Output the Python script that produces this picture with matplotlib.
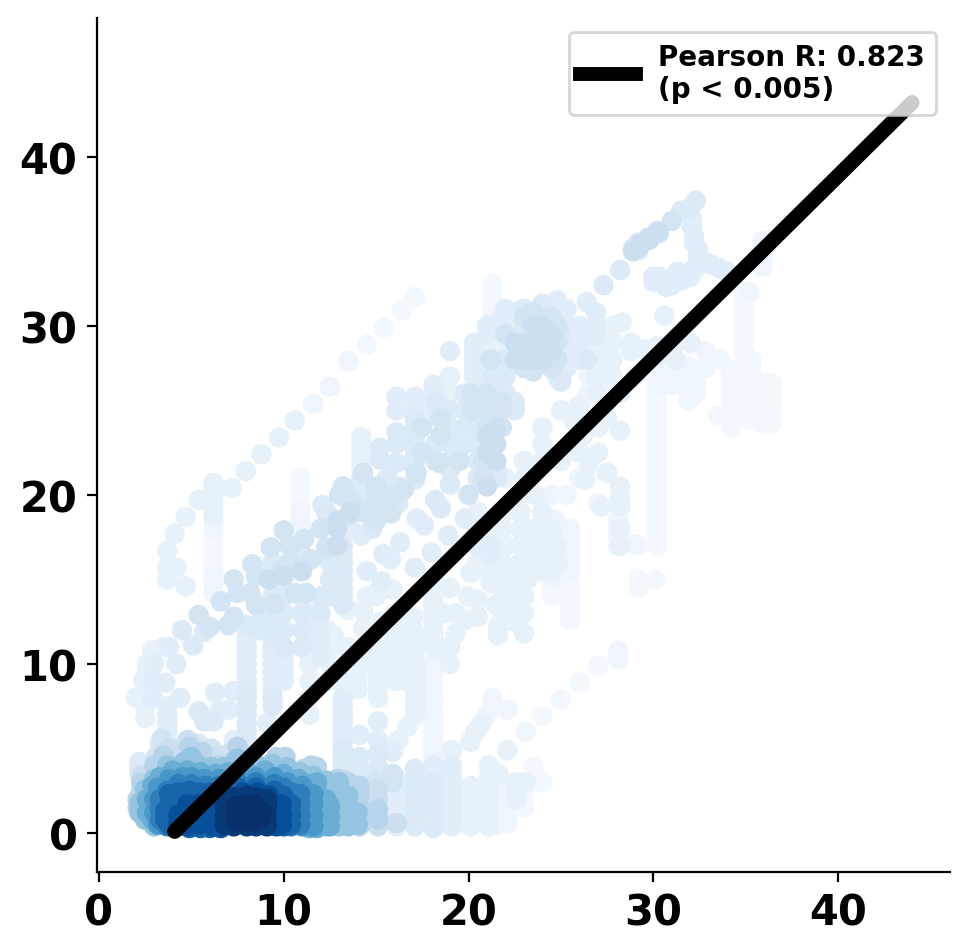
import numpy as np
import matplotlib
matplotlib.use("Agg")
import matplotlib.pyplot as plt
from matplotlib.lines import Line2D

# Each list: (x, [y values]), grouped by point density
d_02 = [
 (6.2,[15.5,16,16.5,17,17.5]), (10.9,[19.5,20,20.5,21]), (21.3,[31,31.5,32,32.5]),
 (30.2,[17,17.5,18,18.5,19,19.5,20,20.5,21,21.5,22,22.5,23,23.5,24,24.5,25,25.5,26]),
 (34.9,[24.5,25,25.5,26,26.5,27,27.5,28,28.5,29,29.5,30,30.5,31,31.5,32]),
 (35.3,[24.5,25,25.5,26,26.5,27,27.5,28]),
 (35.9,[24.2,24.6,25,25.5,26,26.6]), (36.4,[24.2,24.6,25,25.5,26,26.6]),
 (34.2,[24,24.5,25,25.5,26,26.5,27,27.4]), (33.5,[24.7]),
 (29.2,[14.5,15,17]), (30.1,[15]), (16.4,[30.9]), (17.1,[31.7]), (15.4,[29.9]),
 (14.5,[28.9]), (26,[8.9]), (27,[9.9]), (25,[7.9]), (24,[6.9]),
 (25.5,[12.6,13,13.5,14,14.5,15]), (24.5,[14,14.5]),
 (23,[3,2.5,2,1.5]), (24,[3.0]), (23.5,[3.9]),
]
d_05 = [
 (28.1,[10.3,10.8]), (22.1,[7.3]), (23.1,[6]), (13.5,[27.9]), (12.5,[26.4]), (11.6,[25.4]),
 (21.3,[29.5,30,30.5]), (30.2,[26.5,27,27.5,28]), (31.9,[25.6,26,26.5,27,27.6]),
 (32.3,[26.6,26]), (33.2,[28]), (33.6,[28]), (35.9,[33.5,34.1,35]), (36,[34.5]),
 (35.2,[32]), (6.2,[18,18.5,14.2,14.8,15.1]), (10.9,[17.5,18,18.5,19]),
 (18.1,[4.5,5,5.5,6,6.5,7,7.5,8,8.5,9,9.5,10]), (22.1,[0.6,1,1.5,2,2.5,3]),
 (21.6,[0.5,1,1.5,2,2.5,3]), (25.5,[15.5,16,16.5,17,17.5,18]), (24.7,[15,16.5,17.5,18.5]),
 (28.1,[17,17.5,18,18.5]), (27,[19.5]), (29,[17.1]),
 (21,[7]), (21.3,[7.5,8]), (23.5,[21.5]), (24.5,[20]), (25.3,[20]), (26,[21]),
 (31,[28,27,26.5]), (32.8,[27.5,28.5]), (26.5,[26,27,28]), (27.5,[25.5,26.5]),
]
d_08 = [
 (7.2,[20.4]), (7.95,[21.4]), (8.8,[22.4]), (9.75,[23.4]), (10.6,[24.4]), (5.4,[19.7]), (4.7,[18.7]),
 (4.1,[17.7]), (3.7,[16.7,15.7,15]), (4.7,[14.6]), (4.2,[15.7]), (6.2,[18.8,19.3,19.8,20.3,20.7]),
 (14.2,[21.5,22,22.5,23,23.4]), (19.0,[25,26,27]), (21.3,[28,28.5,29]), (20.8,[27,28,29]),
 (21.8,[29,30,30.5]), (22.5,[30,30.8]), (26.9,[26,27,27.5,28,28.5,29]), (27.8,[27,28,29,30]),
 (30.6,[30.6]), (29.5,[28.6]), (32,[29]), (31.2,[28,29]), (28.3,[30.2]), (28.8,[28.5,29]),
 (30.2,[28.2,28.8]), (27,[22.5,24]), (26.5,[21.8]), (27.5,[21.3,24.5]), (28.2,[23.8,26,20.5,19.8,19.3]),
 (26,[25.3,22.5]), (25.7,[24.4,23]), (29,[27]), (26.3,[20.9]), (27.2,[19.3]), (28.2,[17,18]),
 (2.5,[6.8,7.5,8.5]), (2,[8]), (2.4,[9]), (2.6,[9.5,10]), (2.9,[10.8]), (3.5,[11]),
 (20.1,[5.4]), (20.4,[6]), (20.7,[6.5]), (21.1,[4]), (22.1,[4.9]), (23.1,[3]), (19.1,[4.9]),
 (21.6,[3.5]), (22.6,[2,2.5,3]),
 (20.1,[0.4,0.8,1.2,1.6,2,2.4,2.8]), (21.1,[0.4,0.8,1.2,1.6,2,2.4,2.8,3.2]),
 (22.5,[12.5,13,13.5,14,15]), (23.2,[15,15.5,16,17,18]), (24,[15.5,16,17,18,19]),
 (24.8,[16,17]), (21.6,[11.7,12.2]), (21.2,[14.8]), (22,[15.2,17]), (21.5,[13.5]),
 (23,[11.8,13,14]), (18.1,[11,11.5,12,12.5,13,13.5,14,14.5,15]),
 (11.4,[7,8,9,10,10.5,11]), (15.1,[8,8.5,9,9.5,10,10.5]), (16.1,[9,9.5,10,10.5,11]),
 (17.1,[7,7.5,8,8.5,9,9.5,10,10.5,11]), (16.7,[6.3]), (16.2,[5.5]), (17.1,[11.5]),
 (13.5,[10,10.5,11]), (14.5,[10,10.5,11,11.5]), (12.7,[11.7]), (12.3,[12.1]), (14.3,[12.1]),
 (15.3,[12,12.5]), (16,[12,13]), (17,[12,12.8]), (13.5,[13.2]), (14.3,[13.1]),
 (14.5,[14]), (15.1,[14.3]), (15,[14]), (15.9,[14.4]), (19,[14.5]), (20.1,[15.4]),
 (20.5,[13.8,12.8]), (19.3,[11.8]), (19.8,[12.6]), (19,[10,11]), (20,[14]),
 (12.5,[9,10,11]), (13,[9,9.5]), (14,[8.5,9,9.5,10.5]), (15.6,[10,11,12]), (16.6,[9,10,11,12]),
 (18.6,[11,13]), (19.3,[13]), (21.8,[12.5,13.5,14.5,16,18]), (22.8,[15,16,17,18,19,20]),
 (23.6,[16,17,18,20]), (24.5,[15.5,16,17,18]), (21,[15.5,18]), (20.5,[16,19]), (22,[19,21]),
 (23,[21,22]), (24,[22,23,24]), (25,[22,25]), (26.2,[23.5]),
]
d_11 = [
 (3.6,[8.9]), (4.4,[8]), (3.7,[5.5,6,6.5,7,7.5]), (2.9,[8,9]), (3,[10]), (3.8,[11]), (4.2,[10]),
 (8.0,[9,9.5,10,10.5,11,11.5,12]), (9.4,[8.5,9,9.5,10,10.5,11]), (10.0,[9,9.5,10,10.5]),
 (11.4,[11.5,12,12.5,13]), (12,[10.5,11,11.5,12]), (13.2,[5.5,6,6.5,7,7.5,8]),
 (15.1,[6.6,5.5]), (14.1,[5.8]), (15.9,[4.8]), (17.1,[25.8,25.3,24.8]), (18.1,[25,25.5,26,26.5]),
 (16.1,[25,25.8]), (18.8,[24]), (19,[23.2,28.5]), (20.3,[27,27.5,28.5,29]), (24.8,[27,31.5]),
 (20.3,[28]), (25.3,[27.5,28,29,30,31]), (26.4,[31.4]), (26.9,[29.4,30,30.8]), (26,[28,29,30]),
 (30,[32.9,32.6]), (30.7,[32.6,32.3]), (31.6,[33,32.7]), (32.4,[33.5]), (33.2,[33.6]), (34,[33.2]),
 (32.1,[36.3,35.8]), (32.2,[35.3,34.9]), (32.4,[34.5,34]), (32.8,[33.8]), (31.3,[32.9,33.2]),
 (30.3,[32.6,32.9]), (31,[32.8,32.4]), (32,[33.2,32.9]), (33.6,[33.4]),
 (7.3,[4.9,5.5]), (9.1,[6.5]), (6.3,[8.3]), (7.3,[8.4]), (7,[7.3]), (6.5,[7.2]),
 (16.1,[0.4,0.9,1.4,2,2.6,3.2]), (19.1,[0.4,1,1.5,2,2.5,3,3.5,4]), (18.1,[3.5,4]),
 (17.2,[18.6]), (17.6,[18.2]), (16.3,[17.2]), (15.8,[16.2]), (15.4,[16.5]), (17.1,[15.7]),
 (18,[16.6]), (18.9,[17.6]), (19.8,[18.6]), (20.4,[18,17]), (21.2,[17,16.5]), (13.6,[18]),
 (14.2,[17.6]), (14.5,[15.5]), (15.3,[14.9]),
 (21,[29.5,30]), (22,[30.5,31]), (20.5,[26,26.5]),
]
d_14 = [
 (5.4,[7.2]), (5.7,[6.6]), (6.2,[6.6]), (8,[5.5,6,6.5,7,7.5,8,8.5]), (9.4,[7.5,8]),
 (10.9,[15.5,16,16.5,17]), (9.4,[11.5,12,12.5,13,14,15,15.5,16]), (10,[11,12,13,14]),
 (11,[11,12,13,14]), (13.2,[13.5,14,14.5,15,15.5,16,16.5,17]), (17.1,[20.9,21.5,22,22.5,23,23.5,24,24.5]),
 (14.2,[19,19.5,20,20.5,21]), (16.1,[23.7,23,21.9]), (15.2,[22.1,22.8]), (18.2,[19.7,22,23,25.5]),
 (19,[21.5,22,23,24,25]), (19.8,[23,24,25,26]), (18.5,[19.2]), (19,[20.6]), (21.3,[22,23,24,25,26,27]),
 (22,[26,27,28]), (24,[31,31.3]), (23,[31,30]), (25,[29.5,27,26.7]), (26.4,[28]),
 (28.9,[34.6]), (27.3,[32.4]), (32.3,[37.4]), (32,[37]), (31.5,[36.8]), (28.2,[33.3]),
 (22.5,[25,25.5]), (21.5,[21,21.5]), (20.5,[21,22,23,24]),
 (13.2,[3.5,4,4.5,5]), (14.1,[4.5,3.8]), (15.1,[4.7,3.9]), (17.1,[0.4,0.9,1.4,2,2.6,3.2,3.8]),
 (18.1,[0.3,0.9,1.5,2,2.5,3]), (2.2,[4.2,3.8,3.5]), (4.3,[5]), (3.3,[5.3,4.8]),
 (12.3,[19]), (12.1,[19.4]), (5.7,[11.9]), (4.5,[12]), (5.1,[11.1]), (8,[12.3]),
 (14.8,[18,18.5,19]), (15.6,[20,21]), (16.2,[19.5,20.5]), (12.5,[14,15,16]), (12,[13,14]),
 (8.8,[12,13]), (5.4,[5.3]),
]
d_18 = [
 (13.2,[20.5]), (13.2,[19.9]), (15,[19.7]), (15.8,[18.9]), (16.5,[20.3]), (17.2,[21.3]), (18.4,[21.9]),
 (14.3,[21.3]), (13,[20]), (13.7,[19.6]), (14.3,[19]), (10,[17.9]), (9.3,[16.9]), (10.3,[17]),
 (11.1,[17.4]), (12,[18]), (12.3,[16.9]), (11.5,[16.2]), (10.3,[16]), (8.3,[15.9]), (8.5,[15.2]),
 (7.3,[15]), (8.2,[14.2]), (7.5,[14.2]), (8.5,[13.5]), (9.5,[13.6]), (10.6,[14.2]), (11.2,[14.2]),
 (6.6,[13.7]), (7.3,[12.8]), (5.4,[12.9]), (6,[12.2]), (7,[12.3]),
 (21,[24,25,26]), (21.8,[24,25,25.5]), (20.2,[25,26]), (20.8,[22,21]), (20,[20]), (19.5,[22]),
 (21.2,[28]), (22,[29.5]), (23,[27.5,30.5]), (23.5,[27.3,30.8]), (24.5,[30.5,27.5]), (24.8,[28,29,30]),
 (29.2,[34.9,34.5]), (29.7,[35.2]), (30.2,[35.6]), (31,[36.2]),
 (3.4,[5.6]), (3.1,[4.5]), (5.4,[5]), (6.1,[5]), (7,[4.7]), (14.9,[3]), (15.9,[3,3.5]),
 (15,[18.5,20.5]), (16,[20]), (17.5,[22.5,24]), (18.5,[23.5,24.5]), (13.5,[18.8]), (9.8,[15.5]),
]
d_22 = [
 (9.2,[15]), (12.9,[17,18,18.5]), (13.6,[19]), (10,[15.2]), (11,[15.5]),
 (21,[22.5,23.5,20.5]), (21.5,[22,23,24]), (22.5,[28,29]), (23,[28,29,28.5]), (23.5,[28,29,30,28.5]),
 (24,[28,29,30,29.5]), (24.5,[28.5,29.5]), (28.9,[34.4]), (29.3,[34.8]), (29.8,[35.1]), (30.3,[35.5]),
 (15.1,[0.4,0.9,1.4,2,2.6]), (16.1,[0.6]), (7.3,[4]), (6.2,[4.5]), (8,[4.4]), (13.2,[2.8,3.2]),
 (2.3,[3,3.4]), (3.8,[5]), (4.5,[4.6]), (5.1,[4.6]), (4.8,[5.5]),
]
d_30 = [
 (14.1,[0.4,1,1.6,2.2,2.8]), (15.1,[1.4,0.8]), (13.5,[1,2,3]), (12.9,[3.2]), (2.3,[2.5,3]),
 (2.1,[2,1.5]), (3,[4]), (3.5,[4.6]), (4.5,[4]), (5.2,[4.2]), (6.5,[4]), (7.3,[4.3]), (8.5,[3.9]),
 (9.4,[4.2]), (10,[4.3]), (11.1,[3.8]), (11.8,[3.9]), (7.5,[5.1]), (5.6,[4.8]), (4.9,[5.1]),
 (9.6,[4.5]), (10.1,[4.5]), (11.5,[4]),
]
d_40 = [
 (13.5,[0.4,1,1.6,2.2]), (13,[0.4,1,1.6,2.4,3]), (12.3,[0.4,1,1.6,2.4,3.1]), (14,[0.5,1.2]),
 (2.2,[1.2,1.8]), (2.5,[2.6,0.8]), (3,[3.2,0.4]), (3.7,[4]), (4.6,[4.2]), (5.3,[4.1]), (6.1,[3.9]),
 (6.8,[3.9]), (7.5,[4]), (8.5,[4.1]), (9.4,[4.1]), (10.2,[3.9]), (10.9,[3.6]), (11.6,[3.4]),
 (12.6,[0.7,1.3,2]), (13.2,[0.7,1.3,2]), (5,[4.5]), (7.5,[4.4]),
]
d_50 = [
 (12.3,[0.7,1.3,2]), (12.5,[0.4,1,1.6]),
 (11.8,[0.3,1,1.6,2.4,3]), (11.4,[0.3,2.9]), (2.6,[1.2,2]), (2.9,[0.8,2.8]), (3.3,[3.3]), (4,[3.7]),
 (4.8,[3.7]), (5.5,[3.6]), (6.3,[3.5]), (7,[3.6]), (8,[3.7]), (9,[3.7]), (10,[3.5]), (10.8,[3.2]),
 (11.9,[0.6,1.3,2]), (11.5,[0.6,1.3,2.2]),
]
d_60 = [
 (11.6,[0.4,1,1.7,2.3]),
 (11,[0.4,1,1.6,2.8]), (10.8,[2]), (3,[1.2,2]), (3.2,[0.5,2.7]), (3.8,[3.2]), (4.5,[3.3]), (5,[3.3]),
 (5.7,[3.2]), (6.5,[3.2]), (7.5,[3.3]), (8.5,[3.3]), (9.5,[3.3]), (10.2,[3]),
 (11.2,[0.7,1.3,1.9]),
]
d_70 = [
 (10.9,[0.5,1.1,1.7,2.3]),
 (10.4,[0.4,1,1.6,2.4]), (3.3,[0.8,1.4,2]), (3.7,[0.4,2.5]), (4.3,[2.9]), (5,[2.9]), (5.8,[2.8]),
 (6.5,[2.8]), (7.5,[3]), (8.5,[3]), (9.5,[2.9]), (10,[2.7]),
 (10.7,[0.7,1.3,1.8]),
]
d_80 = [
 (10.4,[0.5,1.1,1.7]),
 (10,[0.4,1,1.6,2.2]), (3.8,[0.5,1,1.6,2.3]), (4.3,[0.4,1,1.6,2.4]), (4.9,[0.3,1,1.6,2.5]),
 (5.5,[0.3,1,1.6,2.4]), (6,[0.3,1,1.6,2.4]), (6.6,[2.5]), (7.5,[2.7]), (8.5,[2.7]), (9.5,[2.5]),
 (10.2,[0.7,1.3]), (3.6,[1.3,0.8]),
]
d_88 = [
 (9.9,[0.5,1.1,1.7]),
 (9.6,[0.4,1,1.7]), (6.2,[0.4,1,1.5,2]), (6.6,[0.3,1,1.7]), (7,[2.2]), (7.8,[2.4]), (8.6,[2.4]), (9.2,[2.2]),
 (5.4,[0.5,1.1,1.7]), (4.8,[0.4,1,1.7]), (4.3,[0.6,1.1]),
]
d_96 = [
 (6.8,[0.5,1,1.6,2]), (7.3,[0.4,1,1.7,2.1]), (8,[0.4,1,1.8,2.2]), (8.5,[0.4,1,1.7,2.1]), (9.1,[0.4,1,1.6,2]),
]
d_100 = [
 (7.4,[0.7,1.2,1.6]), (7.9,[0.7,1.2,1.7]), (8.4,[0.7,1.2,1.7]), (8.8,[0.9,1.3]),
]

levels = [(0.02,d_02),(0.05,d_05),(0.08,d_08),(0.11,d_11),(0.14,d_14),(0.18,d_18),(0.22,d_22),
          (0.30,d_30),(0.40,d_40),(0.50,d_50),(0.60,d_60),(0.70,d_70),(0.80,d_80),(0.88,d_88),
          (0.96,d_96),(1.0,d_100)]

reg_x = [4.1, 44.0]
reg_y = [0.1, 43.2]
x_ticks = [0, 10, 20, 30, 40]
y_ticks = [0, 10, 20, 30, 40]
legend_label = "Pearson R: 0.823\n(p < 0.005)"

xs, ys, cs = [], [], []
for val, group in levels:
    for x, yl in group:
        for y in yl:
            xs.append(x); ys.append(y); cs.append(val)

W, H, DPI = 969, 953, 200
fig = plt.figure(figsize=(W/DPI, H/DPI), dpi=DPI)
ax = fig.add_axes([97/W, 1-873/H, (950-97)/W, (873-19)/H])
ax.scatter(xs, ys, c=cs, cmap="Blues", vmin=0, vmax=1, s=54, linewidths=0, zorder=2)
ax.plot(reg_x, reg_y, color="black", lw=5.4, solid_capstyle="round", zorder=3)
ax.set_xlim(-0.1, 46.05)
ax.set_ylim(-2.3, 48.2)
ax.set_xticks(x_ticks)
ax.set_yticks(y_ticks)
ax.tick_params(labelsize=15, width=0.8, length=3.5, pad=3.5)
for lab in ax.get_xticklabels() + ax.get_yticklabels():
    lab.set_fontweight("bold")
for s in ("top", "right"):
    ax.spines[s].set_visible(False)
handle = Line2D([0], [0], color="black", lw=5)
ax.legend([handle], [legend_label], loc="upper right",
          prop={"weight": "bold", "size": 10}, framealpha=0.8)
fig.savefig("out.png", dpi=DPI)
